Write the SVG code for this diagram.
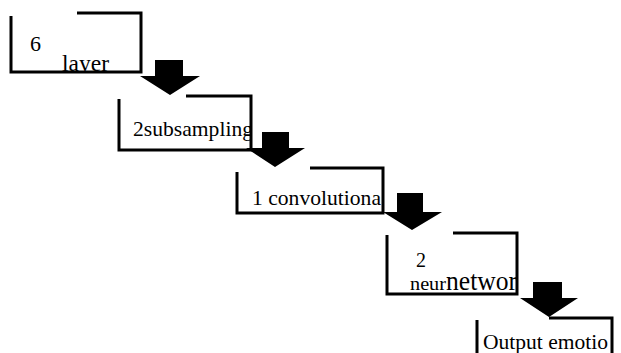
<svg xmlns="http://www.w3.org/2000/svg" width="621" height="353" viewBox="0 0 621 353">
<style>
.box{fill:none;stroke:#000;stroke-width:3;stroke-linejoin:miter}
.t{font-family:"Liberation Serif","Times New Roman",serif;fill:#000;font-size:22px}
.arr{fill:#000;stroke:none}
</style>
<defs>
<clipPath id="c1"><rect x="11" y="13" width="130" height="59"/></clipPath>
<clipPath id="c2"><rect x="119" y="96" width="131" height="53"/></clipPath>
<clipPath id="c3"><rect x="237" y="168" width="145" height="45"/></clipPath>
<clipPath id="c4"><rect x="387" y="233" width="129" height="61"/></clipPath>
<clipPath id="c5"><rect x="477" y="318" width="134" height="40"/></clipPath>
</defs>
<rect width="621" height="353" fill="#fff"/>
<g id="node1">
<path class="box" d="M77,13 H141 V72 H11 V16"/>
<g clip-path="url(#c1)">
<text class="t" x="30" y="51">6</text>
<text class="t" x="62" y="71" style="font-size:23px" textLength="47" lengthAdjust="spacingAndGlyphs">layer</text>
</g>
</g>
<g id="node2">
<path class="box" d="M186,96 H251 V150 H119 V99"/>
<g clip-path="url(#c2)">
<text class="t" x="133" y="136" textLength="120" lengthAdjust="spacingAndGlyphs">2subsampling</text>
</g>
</g>
<g id="node3">
<path class="box" d="M310,168 H383 V213 H237 V172"/>
<g clip-path="url(#c3)">
<text class="t" x="252" y="205" textLength="129" lengthAdjust="spacingAndGlyphs">1 convolutiona</text>
</g>
</g>
<g id="node4">
<path class="box" d="M453,233 H517 V294 H387 V235"/>
<g clip-path="url(#c4)">
<text class="t" x="416" y="267" style="font-size:20px">2</text>
<text class="t" x="410" y="290" style="font-size:19px" textLength="36" lengthAdjust="spacingAndGlyphs">neur</text>
<text class="t" x="446" y="290" style="font-size:27px" textLength="71" lengthAdjust="spacingAndGlyphs">networ</text>
</g>
</g>
<g id="node5">
<path class="box" d="M549,318 H612 V356 M477,320 V356"/>
<g clip-path="url(#c5)">
<text class="t" x="483" y="349" textLength="125" lengthAdjust="spacingAndGlyphs">Output emotio</text>
</g>
</g>
<g id="connectors">
<polygon class="arr" points="155,60 183,60 183,76 200,76 170,95 140,76 155,76"/>
<polygon class="arr" points="262,132 289,132 289,148 305,148 275,167 246,148 262,148"/>
<polygon class="arr" points="397,193 423,193 423,212 442,212 412,230 383,212 397,212"/>
<polygon class="arr" points="533,282 562,282 562,298 578,298 549,317 520,298 533,298"/>
</g>
</svg>
